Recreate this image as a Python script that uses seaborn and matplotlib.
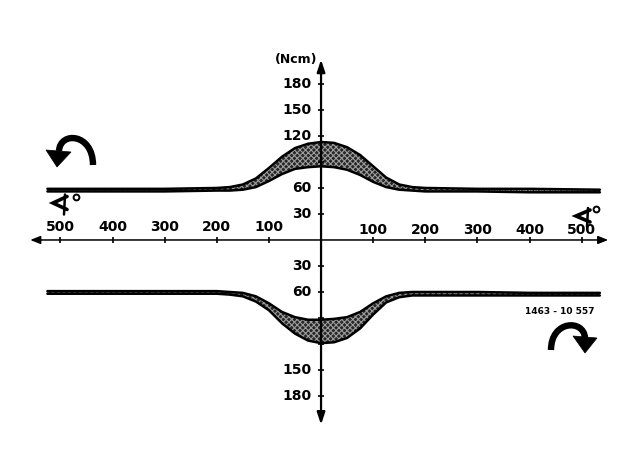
import numpy as np
import pandas as pd
import matplotlib
matplotlib.use("Agg")
import matplotlib.pyplot as plt
import seaborn as sns
from matplotlib.patches import PathPatch, Polygon
from matplotlib.path import Path
from matplotlib.lines import Line2D
from matplotlib.transforms import Affine2D

# ---- data ----
angle_pos = [-525, -400, -300, -200, -175, -150, -125, -100, -75, -50, -25, 0,
             25, 50, 75, 100, 125, 150, 175, 200, 300, 400, 535]
# counter-clockwise torque band (positive side), Ncm
ccw_top = [59, 59, 59, 60, 61, 64, 71, 83, 96, 106, 111, 113,
           112, 107, 98, 85, 72, 64, 61, 60, 59, 59, 58]
ccw_bottom = [56, 56, 56, 57, 57, 58, 61, 68, 76, 82, 84, 85,
              84, 81, 75, 67, 61, 58, 57, 56, 56, 55, 55]
# clockwise torque band (negative side), magnitudes in Ncm
cw_inner = [59, 59, 59, 59, 60, 61, 65, 73, 83, 89, 92, 92,
            91, 89, 83, 73, 65, 61, 60, 60, 60, 61, 61]
cw_outer = [62, 62, 62, 62, 63, 65, 71, 81, 96, 108, 116, 119,
            118, 113, 102, 86, 72, 66, 64, 64, 64, 64, 64]

x_tick_values = [100, 200, 300, 400, 500]
y_labels_upper = [30, 60, 120, 150, 180]
y_labels_lower = [30, 60, 150, 180]
y_tick_marks = [30, 60, 90, 120, 150, 180]
unit_label = "(Ncm)"
ref_code = "1463 - 10 557"

# ---- build frame ----
df = pd.DataFrame({
    "angle": angle_pos * 4,
    "torque": ccw_top + ccw_bottom + [-v for v in cw_inner] + [-v for v in cw_outer],
    "edge": (["ccw_top"] * len(angle_pos) + ["ccw_bottom"] * len(angle_pos)
             + ["cw_inner"] * len(angle_pos) + ["cw_outer"] * len(angle_pos)),
})

sns.set_theme(style="white")
plt.rcParams["font.family"] = ["DejaVu Sans"]
plt.rcParams["font.weight"] = "bold"
plt.rcParams["text.color"] = "black"
plt.rcParams["hatch.linewidth"] = 0.8

W, H = 640, 466
fig = plt.figure(figsize=(W / 100, H / 100), dpi=100)
ax = fig.add_axes([0, 0, 1, 1])
ax.set_xlim(-616, 612)
ax.set_ylim(-260.7, 276.8)
ax.axis("off")
# image-pixel coordinates (y downwards) for decorations
pix = Affine2D().scale(1 / W, -1 / H).translate(0, 1) + fig.transFigure

# bands
ax.fill_between(angle_pos, ccw_bottom, ccw_top, facecolor="#262626",
                hatch="xxxxxx", edgecolor="#9c9c9c", linewidth=0, zorder=2)
ax.fill_between(angle_pos, [-v for v in cw_inner], [-v for v in cw_outer],
                facecolor="#262626", hatch="xxxxxx", edgecolor="#9c9c9c",
                linewidth=0, zorder=2)
sns.lineplot(data=df, x="angle", y="torque", units="edge", estimator=None,
             color="black", linewidth=1.8, ax=ax, zorder=3, sort=False)
ax.set_xlabel("")
ax.set_ylabel("")

# axes with arrows
ax.annotate("", xy=(551, 0), xytext=(-558, 0),
            arrowprops=dict(arrowstyle="<|-|>,head_length=0.5,head_width=0.2",
                            color="black", lw=1.1, shrinkA=0, shrinkB=0), zorder=4)
ax.annotate("", xy=(0, 208), xytext=(0, -213),
            arrowprops=dict(arrowstyle="<|-|>,head_length=0.6,head_width=0.2",
                            color="black", lw=1.6, shrinkA=0, shrinkB=0), zorder=4)

# tick marks
tx = [-v for v in x_tick_values] + x_tick_values
ax.plot(tx, [0] * len(tx), linestyle="none", marker="|", markersize=5,
        color="black", markeredgewidth=1.2, zorder=4)
ty = y_tick_marks + [-v for v in y_tick_marks]
ax.plot([0] * len(ty), ty, linestyle="none", marker="_", markersize=5,
        color="black", markeredgewidth=1.2, zorder=4)

# tick labels
for v in x_tick_values:
    ax.text(-v, 15, str(v), ha="center", va="center", fontsize=10,
            fontweight="bold", color="black")
    ax.text(v, 12, str(v), ha="center", va="center", fontsize=10,
            fontweight="bold", color="black")
for v in y_labels_upper:
    ax.text(-19, v, str(v), ha="right", va="center", fontsize=10,
            fontweight="bold", color="black")
for v in y_labels_lower:
    ax.text(-19, -v, str(v), ha="right", va="center", fontsize=10,
            fontweight="bold", color="black")
ax.text(-48, 208, unit_label, ha="center", va="center", fontsize=9,
        fontweight="bold", color="black")

# reference code
ax.text(458, -82, ref_code, ha="center", va="center", fontsize=6.5,
        fontweight="bold", color="black")


# angle symbols (drawn "<" with a crossing stroke and a degree ring)
def angle_symbol(tip, w, h, deg):
    tx_, ty_ = tip
    fig.add_artist(Line2D([tx_ + w, tx_, tx_ + w], [ty_ - h / 2, ty_, ty_ + h / 2],
                          transform=pix, color="black", lw=2.6,
                          solid_joinstyle="miter"))
    fig.add_artist(Line2D([tx_ + w - 2, tx_ + w - 3], [ty_ - h / 2 - 2, ty_ + h / 2 + 5],
                          transform=pix, color="black", lw=1.8))
    fig.add_artist(Line2D([deg[0]], [deg[1]], transform=pix, marker="o",
                          markersize=4.2, markerfacecolor="white",
                          markeredgecolor="black", markeredgewidth=1.4,
                          linestyle="none"))


angle_symbol((53, 203), 14, 13, (76, 197))
angle_symbol((576, 216), 14, 12, (596, 209))


# rotation arrows: thick arc body plus a filled head
def rot_arrow(body, head):
    p = Path(body, [Path.MOVETO, Path.CURVE4, Path.CURVE4, Path.CURVE4])
    fig.add_artist(PathPatch(p, facecolor="none", edgecolor="black", lw=4.6,
                             transform=pix, capstyle="butt"))
    fig.add_artist(Polygon(head, closed=True, facecolor="black",
                           edgecolor="black", lw=0.5, transform=pix))


rot_arrow([(93, 165), (93, 133), (60, 131), (59, 151)],
          [(46, 150), (71, 152), (57, 167)])
rot_arrow([(551, 350), (551, 320), (584, 319), (585, 338)],
          [(573, 336), (597, 338), (585, 353)])

fig.savefig("out.png", dpi=100, facecolor="white")
